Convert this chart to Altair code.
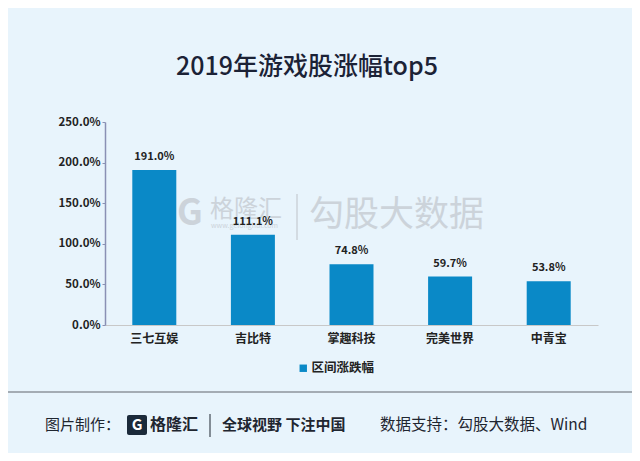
import altair as alt
import pandas as pd

categories = ["三七互娱", "吉比特", "掌趣科技", "完美世界", "中青宝"]
values = [191.0, 111.1, 74.8, 59.7, 53.8]
series_name = "区间涨跌幅"
y_ticks = [0, 50, 100, 150, 200, 250]

df = pd.DataFrame({"公司": categories, "涨幅": values, "系列": [series_name] * len(categories)})

FONT = "Noto Sans CJK SC"
BG = "#e8f4fc"
BAR = "#0a89c7"
WM = "#ccd3da"

base = alt.Chart(df)

def vtext(t, x, y, size, weight="normal", color="#1f2630", align="left"):
    return alt.Chart(pd.DataFrame({"t": [t]})).mark_text(
        font=FONT, fontSize=size, fontWeight=weight, color=color, align=align, baseline="middle"
    ).encode(text="t:N", x=alt.value(x), y=alt.value(y))

# watermark (background decoration)
wm_g = vtext("G", 72, 92, 36, weight="bold", color=WM)
wm_1 = vtext("格隆汇", 105, 88, 24, color=WM)
wm_url = vtext("www.gelonghui.com", 106, 104, 7, color=WM)
wm_bar = alt.Chart(pd.DataFrame({"t": [1]})).mark_rule(color=WM, strokeWidth=1.5).encode(
    x=alt.value(192), y=alt.value(72), y2=alt.value(118)
)
wm_2 = vtext("勾股大数据", 204, 93, 35, color=WM)

bars = base.mark_bar(size=44).encode(
    x=alt.X("公司:N", sort=categories, title=None,
            axis=alt.Axis(labelAngle=0, labelFont=FONT, labelFontSize=12, labelFontWeight="bold",
                          labelColor="#222222", ticks=False, domainColor="#c8c8c8",
                          domainWidth=1, labelPadding=8)),
    y=alt.Y("涨幅:Q", title=None, scale=alt.Scale(domain=[0, 250], nice=False),
            axis=alt.Axis(values=y_ticks, labelExpr="format(datum.value, '.1f') + '%'",
                          labelFont=FONT, labelFontSize=11.5, labelFontWeight="bold",
                          labelColor="#222222", grid=False, domainColor="#8a90b4",
                          tickColor="#8a90b4", tickSize=3, domainWidth=1.5, labelPadding=2)),
    color=alt.Color("系列:N", scale=alt.Scale(range=[BAR]),
                    legend=alt.Legend(title=None, orient="none", legendX=192, legendY=240,
                                      symbolType="square", symbolSize=55, labelFont=FONT,
                                      labelFontSize=12.5, labelFontWeight="bold", labelOffset=2,
                                      labelColor="#222222", symbolStrokeWidth=0)),
)

labels = base.transform_calculate(lbl="format(datum['涨幅'], '.1f') + '%'").mark_text(
    dy=-13, font=FONT, fontSize=11, fontWeight="bold", color="#222222"
).encode(x=alt.X("公司:N", sort=categories), y="涨幅:Q", text="lbl:N")

title = vtext("2019年游戏股涨幅top5", 202, -55, 25, weight=500, color="#1b2236", align="center")

sep = alt.Chart(pd.DataFrame({"t": [1]})).mark_rule(color="#8e959c", strokeWidth=1.5).encode(
    x=alt.value(-97), x2=alt.value(527), y=alt.value(270)
)

logo_box = alt.Chart(pd.DataFrame({"t": [1]})).mark_rect(color="#1b2a3a", cornerRadius=2).encode(
    x=alt.value(22), x2=alt.value(42), y=alt.value(293), y2=alt.value(313)
)
logo_g = vtext("G", 32, 303, 15, weight="bold", color="white", align="center")
logo_bar = alt.Chart(pd.DataFrame({"t": [1]})).mark_rule(color="#1f2630", strokeWidth=1).encode(
    x=alt.value(105), y=alt.value(292), y2=alt.value(315)
)

footer = [
    vtext("图片制作：", -60, 303, 15),
    logo_box, logo_g,
    vtext("格隆汇", 45, 303, 16, weight="bold"),
    logo_bar,
    vtext("全球视野 下注中国", 117, 303, 15, weight="bold"),
    vtext("数据支持：勾股大数据、Wind", 275, 303, 15.5),
]

chart = alt.layer(wm_g, wm_1, wm_url, wm_bar, wm_2, bars, labels, title, sep, *footer).properties(
    width=493, height=203,
    padding={"left": 97, "top": 114, "right": 34, "bottom": 128},
    autosize=alt.AutoSizeParams(type="none"),
    background=BG,
).configure_view(stroke=None)

chart.save("out.html", embed_options={"renderer": "svg", "actions": False})
